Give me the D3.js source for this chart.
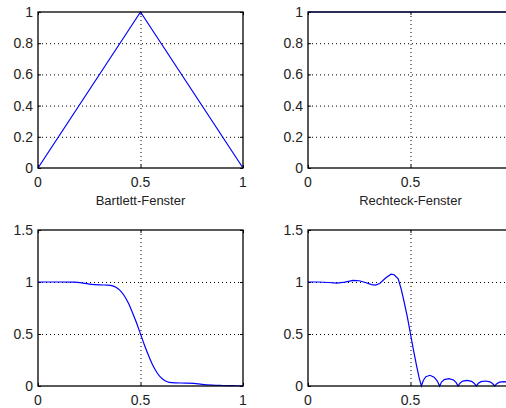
<!DOCTYPE html>
<html>
<head>
<meta charset="utf-8">
<script src="https://cdn.jsdelivr.net/npm/d3@7"></script>
<style>
  body { margin: 0; background: #fff; }
  svg { display: block; font-family: 'Liberation Sans', Arial, sans-serif; }
</style>
</head>
<body>
<script>
const width = 506
const height = 408

// window functions (top row)
const bartlettX = [0, 0.5, 1]
const bartlettY = [0, 1, 0]
const rectX = [0, 1]
const rectY = [1, 1]

// filter responses (bottom row)
const bartRespX = [0, 0.1, 0.18, 0.22, 0.26, 0.3, 0.34, 0.36, 0.38, 0.4, 0.42, 0.44, 0.46, 0.48, 0.5,
  0.52, 0.54, 0.56, 0.58, 0.6, 0.62, 0.64, 0.67, 0.72, 0.76, 0.8, 0.85, 0.9, 0.95, 1]
const bartRespY = [1, 1, 0.998, 0.99, 0.978, 0.972, 0.97, 0.965, 0.95, 0.92, 0.87, 0.8, 0.71, 0.61, 0.5,
  0.39, 0.29, 0.2, 0.13, 0.08, 0.05, 0.035, 0.03, 0.028, 0.025, 0.015, 0.008, 0.005, 0.003, 0]

const rectRespX = [0, 0.05, 0.1, 0.14, 0.18, 0.22, 0.25, 0.28, 0.31, 0.33, 0.35, 0.38, 0.405, 0.42, 0.44,
  0.455, 0.47, 0.485, 0.5, 0.515, 0.53, 0.542, 0.553,
  0.563, 0.575, 0.595, 0.615, 0.63, 0.642,
  0.652, 0.665, 0.687, 0.71, 0.722, 0.732,
  0.742, 0.755, 0.776, 0.798, 0.81, 0.821,
  0.831, 0.844, 0.866, 0.888, 0.9, 0.911,
  0.921, 0.934, 0.956, 0.978, 0.99, 1]
const rectRespY = [1, 1, 0.995, 0.99, 0.998, 1.015, 1.012, 0.995, 0.975, 0.97, 0.985, 1.04, 1.075, 1.07, 1.03,
  0.93, 0.8, 0.66, 0.5, 0.34, 0.19, 0.08, 0,
  0.055, 0.09, 0.103, 0.085, 0.05, 0,
  0.04, 0.062, 0.07, 0.058, 0.035, 0,
  0.03, 0.047, 0.054, 0.045, 0.027, 0,
  0.026, 0.042, 0.048, 0.04, 0.024, 0,
  0.023, 0.037, 0.042, 0.035, 0.02, 0.005]

const xTicks = [0, 0.5, 1]
const yTicksTop = [0, 0.2, 0.4, 0.6, 0.8, 1]
const yTicksBottom = [0, 0.5, 1, 1.5]

const panels = [
  { left: 38, top: 12, xs: bartlettX, ys: bartlettY, yMax: 1, yTicks: yTicksTop, title: 'Bartlett-Fenster', curve: d3.curveLinear },
  { left: 308, top: 12, xs: rectX, ys: rectY, yMax: 1, yTicks: yTicksTop, title: 'Rechteck-Fenster', curve: d3.curveLinear },
  { left: 38, top: 230, xs: bartRespX, ys: bartRespY, yMax: 1.5, yTicks: yTicksBottom, title: null, curve: d3.curveMonotoneX },
  { left: 308, top: 230, xs: rectRespX, ys: rectRespY, yMax: 1.5, yTicks: yTicksBottom, title: null, curve: d3.curveLinear }
]
const pw = 205
const ph = 156

let svg = d3.select('body').append('svg')
  .attr('width', width)
  .attr('height', height)

panels.forEach((p) => {
  let g = svg.append('g').attr('transform', `translate(${p.left},${p.top})`)
  let x = d3.scaleLinear().domain([0, 1]).range([0, pw])
  let y = d3.scaleLinear().domain([0, p.yMax]).range([ph, 0])

  // dotted grid
  g.append('g').selectAll('line')
    .data(p.yTicks.filter((t) => t > 0 && t < p.yMax))
    .enter().append('line')
    .attr('x1', 0).attr('x2', pw)
    .attr('y1', (d) => y(d) + 0.5).attr('y2', (d) => y(d) + 0.5)
    .attr('stroke', '#000').attr('stroke-dasharray', '1,3')
  g.append('g').selectAll('line')
    .data(xTicks.filter((t) => t > 0 && t < 1))
    .enter().append('line')
    .attr('x1', (d) => x(d) + 0.5).attr('x2', (d) => x(d) + 0.5)
    .attr('y1', 0).attr('y2', ph)
    .attr('stroke', '#000').attr('stroke-dasharray', '1,3')

  // inward ticks on all sides
  let ax = [
    d3.axisBottom(x).tickValues(xTicks).tickSize(3).tickFormat(''),
    d3.axisTop(x).tickValues(xTicks).tickSize(3).tickFormat(''),
    d3.axisLeft(y).tickValues(p.yTicks).tickSize(3).tickFormat(''),
    d3.axisRight(y).tickValues(p.yTicks).tickSize(3).tickFormat('')
  ]
  g.append('g').attr('transform', `translate(0,${ph})`).call(ax[1]).select('.domain').remove()
  g.append('g').call(ax[0]).select('.domain').remove()
  g.append('g').call(ax[3]).select('.domain').remove()
  g.append('g').attr('transform', `translate(${pw},0)`).call(ax[2]).select('.domain').remove()

  // tick labels (the right column is cropped at the page edge, like the original)
  g.append('g').selectAll('text')
    .data(xTicks.filter((t) => p.left + x(t) + 4 <= width))
    .enter().append('text')
    .attr('x', (d) => x(d))
    .attr('y', ph + 19)
    .attr('text-anchor', 'middle')
    .attr('font-size', 14)
    .attr('fill', '#222')
    .text((d) => d3.format('')(d))
  g.append('g').selectAll('text')
    .data(p.yTicks)
    .enter().append('text')
    .attr('x', -5)
    .attr('y', (d) => y(d) + 5)
    .attr('text-anchor', 'end')
    .attr('font-size', 14)
    .attr('fill', '#222')
    .text((d) => d3.format('')(d))

  if (p.title) {
    g.append('text')
      .attr('x', pw / 2)
      .attr('y', ph + 37)
      .attr('text-anchor', 'middle')
      .attr('font-size', 13)
      .attr('fill', '#222')
      .text(p.title)
  }

  // data line
  let line = d3.line()
    .x((d, i) => x(p.xs[i]))
    .y((d) => y(d))
    .curve(p.curve)
  g.append('path')
    .datum(p.ys)
    .attr('d', line)
    .attr('fill', 'none')
    .attr('stroke', '#0000ff')
    .attr('stroke-width', 1.2)

  // box
  g.append('rect')
    .attr('x', 0).attr('y', 0)
    .attr('width', pw).attr('height', ph)
    .attr('fill', 'none')
    .attr('stroke', '#000')
    .attr('stroke-width', 1.3)
})
</script>
</body>
</html>
